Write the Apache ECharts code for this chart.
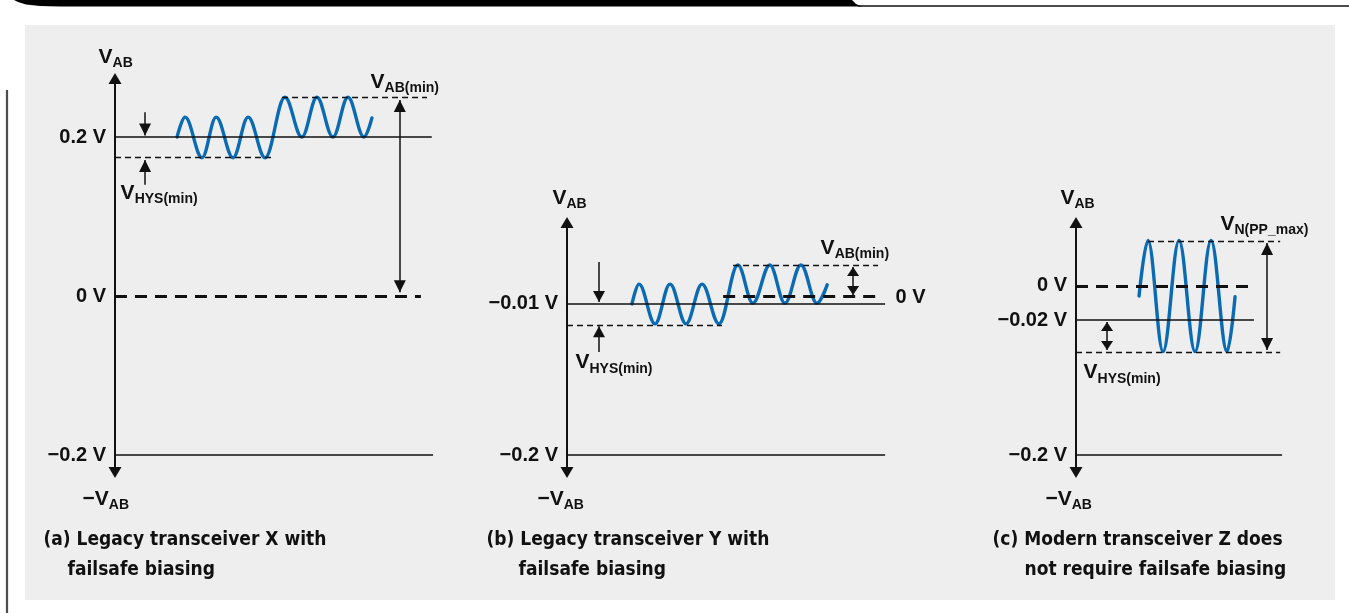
<!DOCTYPE html>
<html><head><meta charset="utf-8">
<script src="https://cdn.jsdelivr.net/npm/echarts@6/dist/echarts.min.js"></script>
<style>html,body{margin:0;padding:0;background:#fff;} #c{width:1349px;height:613px;}</style>
</head><body><div id="c"></div>
<script>
// ===================== DATA (schematic level units, ~mV as drawn; x = time units) =====================
// Panel (a) Legacy transceiver X  — wave: start, peaks/troughs, end
const tickValuesA = [200, 0, -200];
const tickLabelsA = ['0.2 V', '0 V', '\u22120.2 V'];
const waveAX = [19.4, 21.9, 27.2, 31.6, 36.9, 41.6, 46.9, 53.1, 58.4, 63.1, 68.1, 72.8, 77.8, 80.3];
const waveAY = [200, 225, 174, 225, 174, 225, 174, 250, 200, 250, 200, 250, 200, 224];
const solidA = [[200, 0, 99], [-200, 0, 99.4]];          // [level, xFrom, xTo]
const thinDashA = [[174, 0, 49.4], [250, 52.2, 97.5]];
const thickDashA = [[0, 0, 95.6]];
const singleArrowsA = [[9.4, 231, 202], [9.4, 140, 171]];  // [x, from, tip]
const doubleArrowsA = [[89, 246.5, 4.6]];                  // [x, tip1, tip2]

// Panel (b) Legacy transceiver Y
const tickValuesB = [-10, -200];
const tickLabelsB = ['\u22120.01 V', '\u22120.2 V'];
const waveBX = [20.3, 22.5, 27.5, 32.2, 37.2, 42.2, 47.5, 53.4, 58.1, 63.4, 68.1, 73.1, 78.1, 81.3];
const waveBY = [-10, 15, -35, 15, -35, 15, -35, 39, -9, 39, -9, 39, -9, 14];
const solidB = [[-10, 0, 99.4], [-200, 0, 99.4]];
const thinDashB = [[-36.5, 0, 48.4], [39, 51.9, 97.2]];
const thickDashB = [[0, 48.8, 97.8]];
const singleArrowsB = [[10, 42.8, -7.5], [10, -70.5, -38]];
const doubleArrowsB = [[89.4, 36.5, 1.3]];

// Panel (c) Modern transceiver Z
const tickValuesC = [12.6, -30.2, -200];
const tickLabelsC = ['0 V', '\u22120.02 V', '\u22120.2 V'];
const waveCX = [19.7, 22.5, 27.2, 32.2, 37.2, 42.2, 47.2, 49.7];
const waveCY = [0, 70, -70, 70, -70, 70, -70, -1];
const solidC = [[-30.2, 0, 55.6], [-200, 0, 64.4]];
const thinDashC = [[69.2, 22.5, 63.8], [-70.5, 0, 63.8]];
const thickDashC = [[12.6, 0, 55]];
const doubleArrowsC = [[9.7, -32.7, -68], [59.7, 66.7, -68]];

// Captions
const captionA = ['(a) Legacy transceiver X with', 'failsafe biasing'];
const captionB = ['(b) Legacy transceiver Y with', 'failsafe biasing'];
const captionC = ['(c) Modern transceiver Z does', 'not require failsafe biasing'];

// ===================== STYLE / BUILD =====================
const FONT = "'Liberation Sans', Arial, Helvetica, sans-serif";
const NARROW = "'Liberation Sans Narrow', 'Arial Narrow', 'DejaVu Sans Condensed', sans-serif";
const INK = '#111111';
const BLUE = '#0a6ab4';

const SOLID = {color: INK, width: 1.5, type: 'solid'};
const THIN = {color: INK, width: 1.3, type: [6, 4]};
const THICK = {color: INK, width: 2.8, type: [12, 8]};
const ARROW = {color: INK, width: 1.5, type: 'solid'};

const richV = {
  v: {fontFamily: FONT, fontWeight: 'bold', fontSize: 21, lineHeight: 20, verticalAlign: 'top', color: INK},
  s: {fontFamily: FONT, fontWeight: 'bold', fontSize: 14, lineHeight: 14, padding: [10, 0, 0, 0], verticalAlign: 'top', color: INK}
};

function segs(list, style) {
  return list.map(s => [{coord: [s[1], s[0]], lineStyle: style, symbol: 'none'}, {coord: [s[2], s[0]], symbol: 'none'}]);
}
function head(h) { return {symbol: 'triangle', symbolSize: [12, h], symbolOffset: [0, h / 2]}; }
function singles(list, h) {
  return list.map(a => [{coord: [a[0], a[1]], lineStyle: ARROW, symbol: 'none'}, Object.assign({coord: [a[0], a[2]]}, head(h))]);
}
function doubles(list, hs) {
  return list.map((a, i) => [Object.assign({coord: [a[0], a[1]], lineStyle: ARROW}, head(hs[i])), Object.assign({coord: [a[0], a[2]]}, head(hs[i]))]);
}
function zip(xs, ys) { return xs.map((x, i) => [x, ys[i]]); }

function waveSeries(idx, xs, ys, marks) {
  return {
    type: 'line', xAxisIndex: idx, yAxisIndex: idx, data: zip(xs, ys), smooth: 0.37, smoothMonotone: 'x',
    symbol: 'none', silent: true, z: 4,
    lineStyle: {color: BLUE, width: 3.4, cap: 'round'},
    markLine: {silent: true, symbol: ['none', 'none'], label: {show: false}, emphasis: {disabled: true},
      lineStyle: SOLID, data: marks, animation: false}
  };
}
function vLabel(main, sub) { return '{v|' + main + '}{s|' + sub + '}'; }
function note(x, y, text, extra) {
  const lab = {show: true, position: 'right', distance: 0, formatter: text, opacity: 1,
    fontFamily: FONT, fontWeight: 'bold', fontSize: 20, color: INK};
  if (!extra || !extra.plain) lab.rich = richV;
  if (extra) { for (const k in extra) if (k !== 'plain') lab[k] = extra[k]; }
  return {value: [x, y], label: lab};
}
function caption(x, y, text) {
  return note(x, y, text, {plain: true, fontFamily: NARROW, fontSize: 19, fontWeight: 'bold'});
}
function notesSeries(idx, items) {
  return {type: 'scatter', xAxisIndex: idx, yAxisIndex: idx, symbol: 'circle', symbolSize: 1, clip: false, silent: true, z: 6,
    itemStyle: {color: 'rgba(0,0,0,0)', opacity: 1}, data: items};
}
function yAxisFor(idx, min, max, vals, labels) {
  return {
    type: 'value', gridIndex: idx, min: min, max: max,
    splitLine: {show: false}, axisTick: {show: false},
    axisLine: {show: true, onZero: false, symbol: ['triangle', 'triangle'], symbolSize: [13, 11],
      lineStyle: {color: INK, width: 2}},
    axisLabel: {customValues: vals, formatter: v => labels[vals.indexOf(v)], margin: 9,
      fontFamily: FONT, fontWeight: 'bold', fontSize: 20, color: INK}
  };
}
function xAxisFor(idx, max) { return {type: 'value', gridIndex: idx, min: 0, max: max, show: false}; }

const option = {
  animation: false,
  backgroundColor: '#ffffff',
  textStyle: {fontFamily: FONT},
  graphic: [
    {type: 'rect', z: 0, shape: {x: 25, y: 25, width: 1310, height: 575}, style: {fill: '#eeeeee'}},
    {type: 'polygon', z: 0, shape: {points: [[14, 0], [852, 0], [856, 4], [862, 6.5], [60, 6.5], [40, 6], [26, 4.5], [18, 2]]}, style: {fill: '#000'}},
    {type: 'line', z: 0, shape: {x1: 858, y1: 6, x2: 1349, y2: 6}, style: {stroke: '#111', lineWidth: 1.6}},
    {type: 'line', z: 0, shape: {x1: 7, y1: 90, x2: 7, y2: 613}, style: {stroke: '#4d4d4d', lineWidth: 2.2}}
  ],
  grid: [
    {left: 115, top: 78.5, width: 320, height: 394},
    {left: 567, top: 222.5, width: 320, height: 250},
    {left: 1076, top: 222.5, width: 256, height: 250}
  ],
  xAxis: [xAxisFor(0, 100), xAxisFor(1, 100), xAxisFor(2, 80)],
  yAxis: [
    yAxisFor(0, -222, 273.6, tickValuesA, tickLabelsA),
    yAxisFor(1, -222, 92.45, tickValuesB, tickLabelsB),
    yAxisFor(2, -222, 92.45, tickValuesC, tickLabelsC)
  ],
  series: [
    waveSeries(0, waveAX, waveAY, [].concat(segs(solidA, SOLID), segs(thinDashA, THIN), segs(thickDashA, THICK),
      singles(singleArrowsA, 12), doubles(doubleArrowsA, [12]))),
    waveSeries(1, waveBX, waveBY, [].concat(segs(solidB, SOLID), segs(thinDashB, THIN), segs(thickDashB, THICK),
      singles(singleArrowsB, 11), doubles(doubleArrowsB, [9]))),
    waveSeries(2, waveCX, waveCY, [].concat(segs(solidC, SOLID), segs(thinDashC, THIN), segs(thickDashC, THICK),
      doubles(doubleArrowsC, [9, 12]))),
    notesSeries(0, [
      note(-5.3, 301.3, vLabel('V', 'AB')),
      note(79.7, 269.8, vLabel('V', 'AB(min)')),
      note(1.6, 130.2, vLabel('V', 'HYS(min)')),
      note(-10.3, -254.7, vLabel('\u2212V', 'AB')),
      caption(-22.5, -306.9, captionA[0]),
      caption(-15, -344.7, captionA[1])
    ]),
    notesSeries(1, [
      note(-4.7, 123.9, vLabel('V', 'AB')),
      note(79.1, 61.0, vLabel('V', 'AB(min)')),
      note(2.5, -83.0, vLabel('V', 'HYS(min)')),
      note(102.5, -1.3, '0 V', {plain: true}),
      note(-9.4, -254.7, vLabel('\u2212V', 'AB')),
      caption(-25.3, -306.9, captionB[0]),
      caption(-15.3, -344.7, captionB[1])
    ]),
    notesSeries(2, [
      note(-5, 123.9, vLabel('V', 'AB')),
      note(45, 91.2, vLabel('V', 'N(PP_max)')),
      note(2.2, -95.6, vLabel('V', 'HYS(min)')),
      note(-9.7, -254.7, vLabel('\u2212V', 'AB')),
      caption(-26.25, -306.9, captionC[0]),
      caption(-16.25, -344.7, captionC[1])
    ])
  ]
};
const chart = echarts.init(document.getElementById('c'), null, {renderer: 'canvas'});
chart.setOption(option);
</script></body></html>
